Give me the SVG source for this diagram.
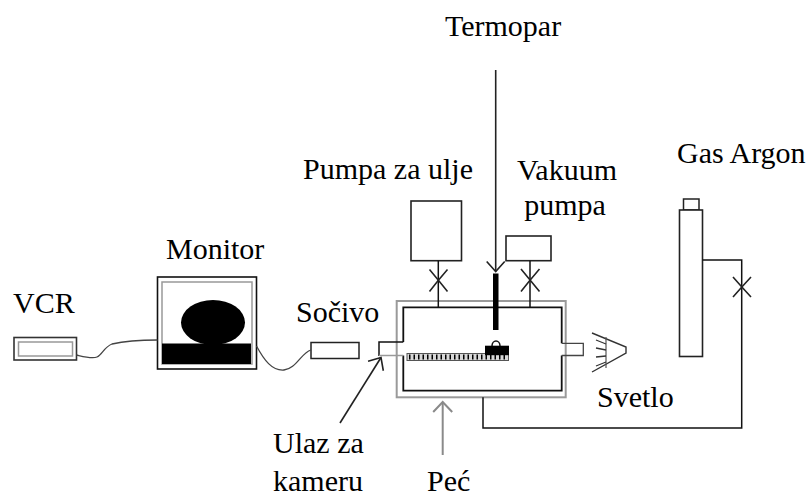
<svg xmlns="http://www.w3.org/2000/svg" width="812" height="498" viewBox="0 0 812 498">
  <defs>
    <style>
      .lbl { font-family: "Liberation Serif", "Times New Roman", serif; font-size: 30px; fill: #000; }
      .ln { fill: none; stroke: #111; stroke-width: 1.5; }
      .gr { fill: none; stroke: #9a9a9a; stroke-width: 2; }
      .cable { fill: none; stroke: #444; stroke-width: 1.3; }
      .valve { fill: none; stroke: #222; stroke-width: 1.6; }
    </style>
    <marker id="openHead" markerUnits="userSpaceOnUse" markerWidth="24" markerHeight="24" refX="12" refY="12" orient="auto" viewBox="0 0 24 24">
      <path d="M2,3 L12,12 L2,21" fill="none" stroke="#222" stroke-width="1.6"/>
    </marker>
    <marker id="openHeadGray" markerUnits="userSpaceOnUse" markerWidth="24" markerHeight="24" refX="12" refY="12" orient="auto" viewBox="0 0 24 24">
      <path d="M2,2.5 L12,12 L2,21.5" fill="none" stroke="#8a8a8a" stroke-width="2"/>
    </marker>
  </defs>

  <rect width="812" height="498" fill="#fff"/>

  <!-- VCR -->
  <g id="vcr">
    <rect x="14" y="337.5" width="62.5" height="22.5" fill="#fff" stroke="#333" stroke-width="1.6"/>
    <rect x="18.5" y="342" width="54" height="14" fill="none" stroke="#999" stroke-width="1.5"/>
    <text class="lbl" x="13" y="313">VCR</text>
  </g>

  <!-- Monitor -->
  <g id="monitor">
    <rect x="157.5" y="277" width="99" height="92" fill="#fff" stroke="#111" stroke-width="1.6"/>
    <rect x="162" y="282" width="90" height="82" fill="none" stroke="#999" stroke-width="1.5"/>
    <ellipse cx="213" cy="322.5" rx="32" ry="22.5" fill="#000"/>
    <rect x="162" y="343.5" width="89" height="20.5" fill="#000"/>
    <text class="lbl" x="166" y="259">Monitor</text>
  </g>

  <!-- Lens -->
  <g id="socivo">
    <rect x="311" y="342.5" width="48" height="16" fill="#fff" stroke="#222" stroke-width="1.5"/>
    <text class="lbl" x="296" y="322">Sočivo</text>
  </g>

  <!-- Furnace with vacuum chamber -->
  <g id="pec">
    <rect x="396.7" y="301" width="169" height="96.3" class="gr"/>
    <!-- chamber wall with camera port and light port -->
    <path d="M403.3,342 V307.3 H561.7 V343.3 M561.7,355.5 V390.7 H403.3 V355.5" fill="none" stroke="#111" stroke-width="1.8"/>
    <path d="M403.3,342 H379 V356" fill="none" stroke="#111" stroke-width="1.5"/>
    <path d="M379,355.5 H403.3" fill="none" stroke="#999" stroke-width="1.5"/>
    <path d="M561.7,343.3 H583.3 V355.5 H561.7" fill="none" stroke="#444" stroke-width="1.3"/>
    <!-- sample carrier -->
    <rect x="407" y="353.5" width="101.5" height="7" fill="#d8d8d8" stroke="#555" stroke-width="1"/>
    <line x1="409" y1="357" x2="507" y2="357" stroke="#000" stroke-width="5" stroke-dasharray="1.5 3"/>
    <rect x="485" y="345.7" width="24" height="9.5" fill="#000"/>
    <path d="M492,346 A4,5 0 0 1 500,346" fill="none" stroke="#111" stroke-width="1.5"/>
  </g>

  <!-- Thermocouple -->
  <g id="termopar">
    <line x1="495.7" y1="70" x2="495.7" y2="271.5" stroke="#222" stroke-width="1.6" marker-end="url(#openHead)"/>
    <rect x="493" y="273.5" width="5.5" height="56.5" fill="#000"/>
    <text class="lbl" x="445" y="36">Termopar</text>
  </g>

  <!-- Oil pump -->
  <g id="pumpa-za-ulje">
    <rect x="411" y="201" width="50.5" height="59.7" fill="#fff" stroke="#222" stroke-width="1.6"/>
    <text class="lbl" x="303" y="179">Pumpa za ulje</text>
  </g>

  <!-- Vacuum pump -->
  <g id="vakuum-pumpa">
    <rect x="506" y="236" width="45" height="24.7" fill="#fff" stroke="#222" stroke-width="1.6"/>
    <text class="lbl" x="567" y="180" text-anchor="middle">Vakuum</text>
    <text class="lbl" x="565" y="215" text-anchor="middle">pumpa</text>
  </g>

  <!-- Argon cylinder -->
  <g id="gas-argon">
    <rect x="683.5" y="199" width="15.5" height="11" fill="#fff" stroke="#222" stroke-width="1.5"/>
    <rect x="679.5" y="210" width="23" height="146.5" fill="#fff" stroke="#222" stroke-width="1.6"/>
    <text class="lbl" x="677" y="163">Gas Argon</text>
  </g>

  <!-- Light source -->
  <g id="svetlo">
    <path d="M592,333 L626,347 L626,353 L592,372" fill="none" stroke="#333" stroke-width="1.4"/>
    <line x1="606" y1="337" x2="606" y2="368" stroke="#555" stroke-width="1.2"/>
    <path d="M596,340 L606,344 M596,348 L606,350 M596,357 L606,356 M596,366 L606,362" fill="none" stroke="#333" stroke-width="1.3"/>
    <text class="lbl" x="597" y="407">Svetlo</text>
  </g>

  <!-- Port labels -->
  <g id="ulaz-za-kameru">
    <text class="lbl" x="273" y="453">Ulaz za</text>
    <text class="lbl" x="273" y="491">kameru</text>
  </g>
  <g id="pec-label">
    <text class="lbl" x="427" y="491">Peć</text>
  </g>

  <!-- Connectors: cables, pipes, valves and pointer arrows -->
  <g id="connectors">
    <path class="cable" d="M76.5,355 C85,357 92,359 97,357 C102,355 104,347 112,344 C125,341 145,340 157.5,340"/>
    <path class="cable" d="M256.5,346 C264,360 272,371 284,370 C296,369 301,353 311,350"/>
    <!-- oil pump pipe + valve -->
    <line x1="438.3" y1="260.7" x2="438.3" y2="307.3" class="ln"/>
    <path class="valve" d="M429.5,269.5 Q438.3,280 447.5,291.5 M429.5,291.5 Q438.3,280 447.5,269.5"/>
    <!-- vacuum pump pipe + valve -->
    <line x1="530" y1="260.7" x2="530" y2="307.3" class="ln"/>
    <path class="valve" d="M521,269 Q530,280 539.5,291.5 M521,291.5 Q530,280 539.5,269"/>
    <!-- argon line + valve -->
    <path class="ln" d="M702.5,260 H741.7 V428 H483 V397.3"/>
    <path class="valve" d="M733,277 Q741.7,287 751,297 M733,297 Q741.7,287 751,277"/>
    <!-- pointer arrows -->
    <line x1="340" y1="423" x2="381" y2="357.5" stroke="#222" stroke-width="1.6" marker-end="url(#openHead)"/>
    <line x1="442.7" y1="455" x2="442.7" y2="402" stroke="#8a8a8a" stroke-width="2" marker-end="url(#openHeadGray)"/>
  </g>
</svg>
